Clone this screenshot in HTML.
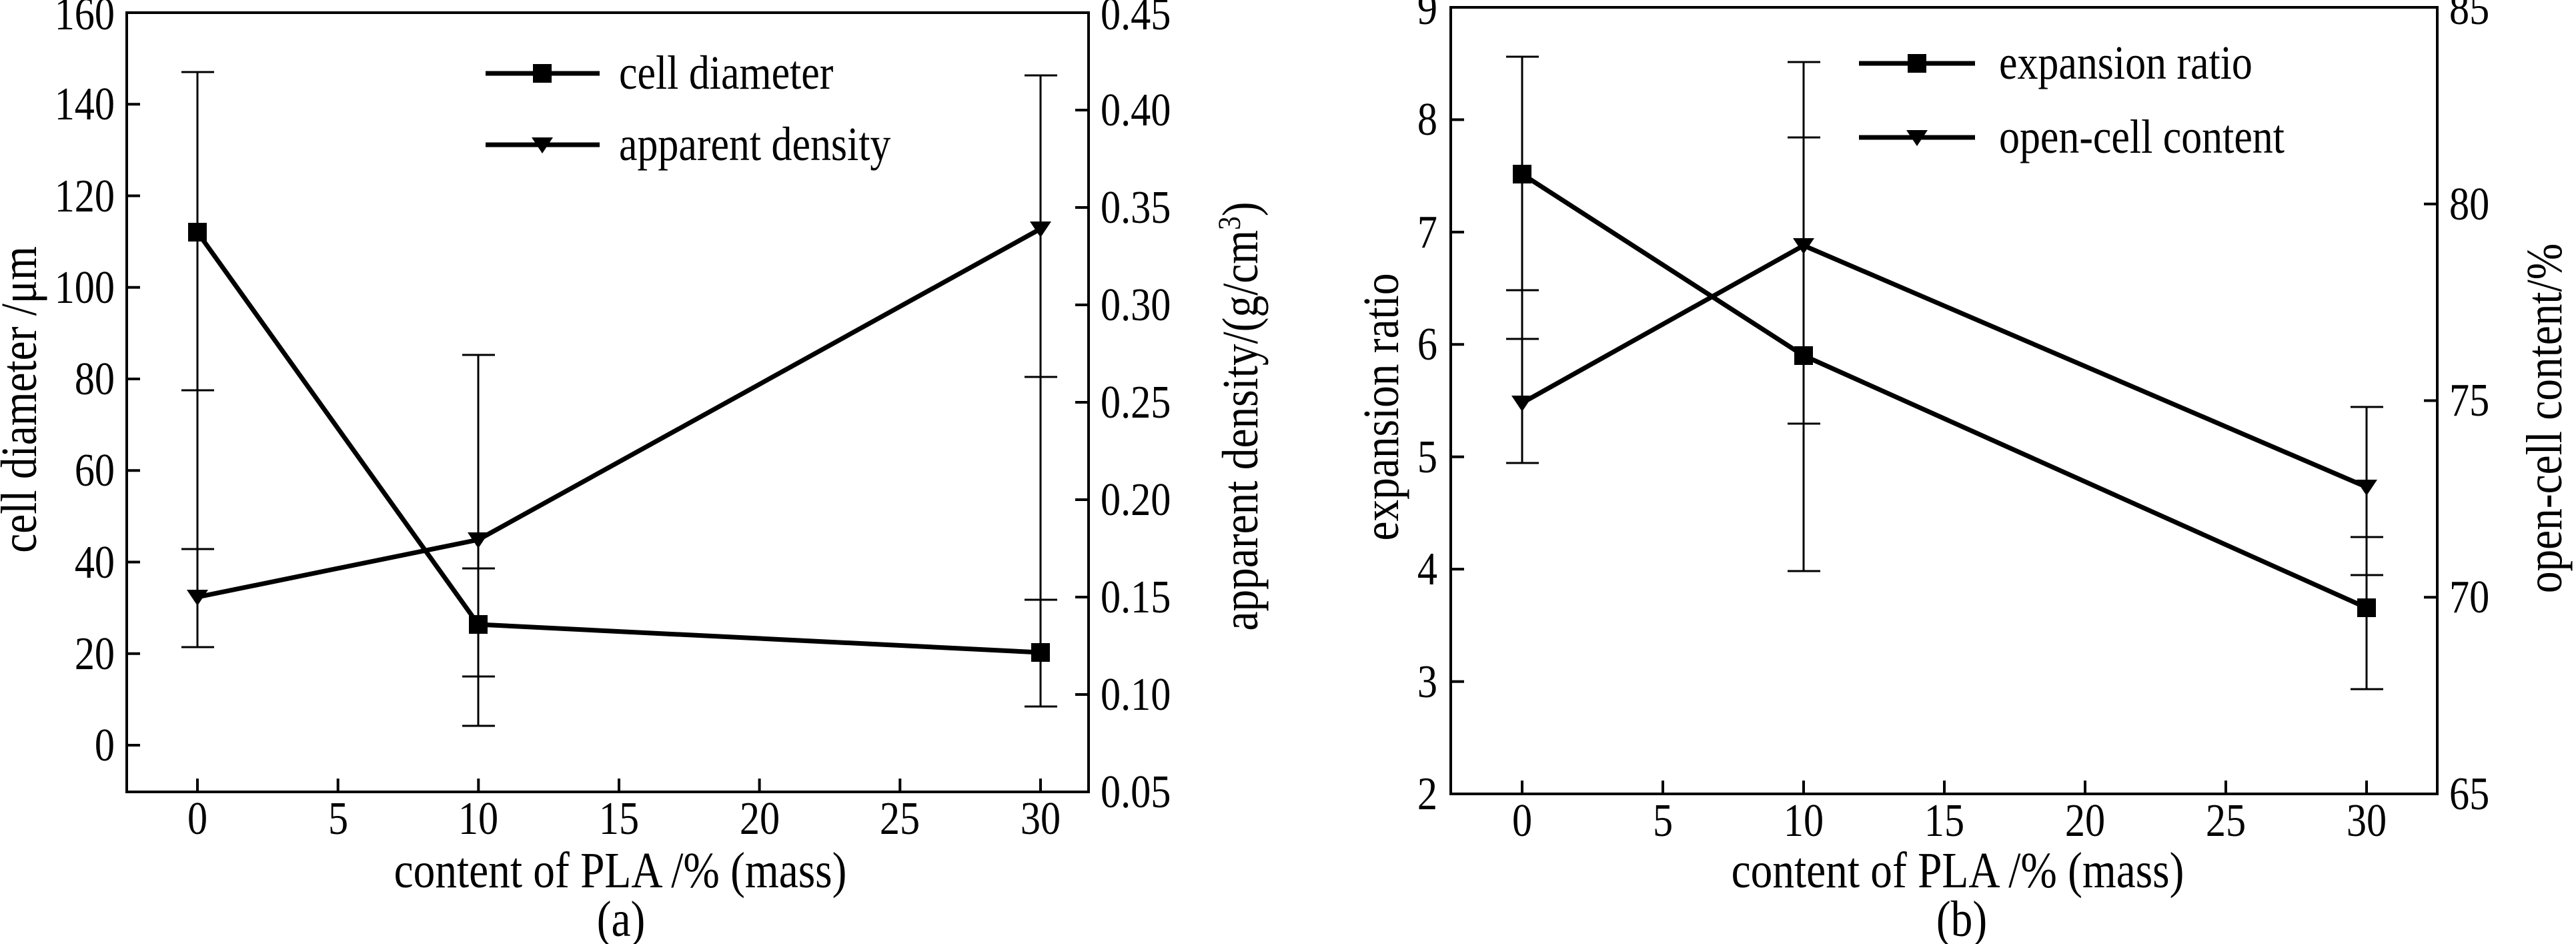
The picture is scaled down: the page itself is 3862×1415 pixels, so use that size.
<!DOCTYPE html>
<html><head><meta charset="utf-8"><style>
html,body{margin:0;padding:0;background:#fff;}
svg{display:block;}
text{font-family:"Liberation Serif",serif;font-size:70px;fill:#000;}
.t{font-size:76px;}
.l{font-size:72px;}
</style></head><body>
<svg width="3862" height="1415" viewBox="0 0 3862 1415" xmlns="http://www.w3.org/2000/svg">
<defs>
<g id="sq"><rect x="-14" y="-14" width="28" height="28" fill="#000"/></g>
<g id="tri"><polygon points="-16,-11 16,-11 0,13" fill="#000"/></g>
</defs>
<g stroke="#000" fill="none">
<rect x="190" y="19" width="1442" height="1168" stroke-width="4"/>
<g stroke-width="4">
<path d="M190 1117h20M190 979.75h20M190 842.5h20M190 705.25h20M190 568h20M190 430.75h20M190 293.5h20M190 156.25h20"/>
<path d="M1632 1041h-20M1632 895h-20M1632 749h-20M1632 603h-20M1632 457h-20M1632 311h-20M1632 165h-20"/>
<path d="M296 1187v-20M506.7 1187v-20M717.3 1187v-20M928 1187v-20M1138.6 1187v-20M1349.3 1187v-20M1560 1187v-20"/>
</g>
<g stroke-width="3">
<path d="M296 108V970M272 108h49M272 585h49M272 823h49M272 970h49"/>
<path d="M717 532V1088M693 532h49M693 852h49M693 1014h49M693 1088h49"/>
<path d="M1560 113V1059M1536 113h49M1536 565h49M1536 899h49M1536 1059h49"/>
</g>
<g stroke-width="7" stroke-linejoin="round">
<polyline points="296,348 717,936 1560,978"/>
<polyline points="296,895 717,809 1560,343"/>
<path d="M728 110H899M728 217H899"/>
</g>
<rect x="2175" y="11" width="1479" height="1179" stroke-width="4"/>
<g stroke-width="4">
<path d="M2175 1021.6h20M2175 853.1h20M2175 684.7h20M2175 516.3h20M2175 347.9h20M2175 179.4h20"/>
<path d="M3654 895.25h-20M3654 600.5h-20M3654 305.75h-20"/>
<path d="M2282 1190v-20M2493 1190v-20M2704 1190v-20M2915 1190v-20M3126 1190v-20M3337 1190v-20M3548 1190v-20"/>
</g>
<g stroke-width="3">
<path d="M2282 85V694M2258 85h49M2258 435h49M2258 508h49M2258 694h49"/>
<path d="M2704 93V856M2680 93h49M2680 206h49M2680 635h49M2680 856h49"/>
<path d="M3548 610V1033M3524 610h49M3524 805h49M3524 862h49M3524 1033h49"/>
</g>
<g stroke-width="7" stroke-linejoin="round">
<polyline points="2282,261 2704,533 3548,911"/>
<polyline points="2282,604 2704,368 3548,730"/>
<path d="M2787 95H2961M2787 206H2961"/>
</g>
</g>
<use href="#sq" x="296" y="348"/><use href="#sq" x="717" y="936"/><use href="#sq" x="1560" y="978"/>
<use href="#tri" x="296" y="895"/><use href="#tri" x="717" y="809"/><use href="#tri" x="1560" y="343"/>
<use href="#sq" x="813" y="110"/><use href="#tri" x="813" y="217"/>
<use href="#sq" x="2282" y="261"/><use href="#sq" x="2704" y="533"/><use href="#sq" x="3548" y="911"/>
<use href="#tri" x="2282" y="604"/><use href="#tri" x="2704" y="368"/><use href="#tri" x="3548" y="730"/>
<use href="#sq" x="2874" y="95"/><use href="#tri" x="2874" y="206"/>

<g text-anchor="end">
<text transform="translate(172,1140) scale(.86,1)">0</text>
<text transform="translate(172,1003) scale(.86,1)">20</text>
<text transform="translate(172,866) scale(.86,1)">40</text>
<text transform="translate(172,728) scale(.86,1)">60</text>
<text transform="translate(172,591) scale(.86,1)">80</text>
<text transform="translate(172,454) scale(.86,1)">100</text>
<text transform="translate(172,317) scale(.86,1)">120</text>
<text transform="translate(172,179) scale(.86,1)">140</text>
<text transform="translate(172,44) scale(.86,1)">160</text>
</g>
<g>
<text transform="translate(1650,1210) scale(.86,1)">0.05</text>
<text transform="translate(1650,1064) scale(.86,1)">0.10</text>
<text transform="translate(1650,918) scale(.86,1)">0.15</text>
<text transform="translate(1650,772) scale(.86,1)">0.20</text>
<text transform="translate(1650,626) scale(.86,1)">0.25</text>
<text transform="translate(1650,480) scale(.86,1)">0.30</text>
<text transform="translate(1650,334) scale(.86,1)">0.35</text>
<text transform="translate(1650,188) scale(.86,1)">0.40</text>
<text transform="translate(1650,44) scale(.86,1)">0.45</text>
</g>
<g text-anchor="middle">
<text transform="translate(296,1250) scale(.86,1)">0</text>
<text transform="translate(507,1250) scale(.86,1)">5</text>
<text transform="translate(717,1250) scale(.86,1)">10</text>
<text transform="translate(928,1250) scale(.86,1)">15</text>
<text transform="translate(1139,1250) scale(.86,1)">20</text>
<text transform="translate(1349,1250) scale(.86,1)">25</text>
<text transform="translate(1560,1250) scale(.86,1)">30</text>
<text class="t" transform="translate(930,1330) scale(.86,1)">content of PLA /% (mass)</text>
<text class="t" transform="translate(931,1403) scale(.86,1)">(a)</text>
<text class="t" transform="translate(54,599) rotate(-90) scale(.86,1)">cell diameter /μm</text>
<text class="t" transform="translate(1885,624) rotate(-90) scale(.86,1)">apparent density/(g/cm<tspan font-size="48" dy="-26">3</tspan><tspan dy="26">)</tspan></text>
</g>
<text class="l" transform="translate(928,133) scale(.86,1)">cell diameter</text>
<text class="l" transform="translate(928,240) scale(.86,1)">apparent density</text>

<g text-anchor="end">
<text transform="translate(2155,1213) scale(.86,1)">2</text>
<text transform="translate(2155,1045) scale(.86,1)">3</text>
<text transform="translate(2155,876) scale(.86,1)">4</text>
<text transform="translate(2155,708) scale(.86,1)">5</text>
<text transform="translate(2155,539) scale(.86,1)">6</text>
<text transform="translate(2155,371) scale(.86,1)">7</text>
<text transform="translate(2155,202) scale(.86,1)">8</text>
<text transform="translate(2155,36) scale(.86,1)">9</text>
</g>
<g>
<text transform="translate(3672,1213) scale(.86,1)">65</text>
<text transform="translate(3672,918) scale(.86,1)">70</text>
<text transform="translate(3672,623) scale(.86,1)">75</text>
<text transform="translate(3672,329) scale(.86,1)">80</text>
<text transform="translate(3672,36) scale(.86,1)">85</text>
</g>
<g text-anchor="middle">
<text transform="translate(2282,1253) scale(.86,1)">0</text>
<text transform="translate(2493,1253) scale(.86,1)">5</text>
<text transform="translate(2704,1253) scale(.86,1)">10</text>
<text transform="translate(2915,1253) scale(.86,1)">15</text>
<text transform="translate(3126,1253) scale(.86,1)">20</text>
<text transform="translate(3337,1253) scale(.86,1)">25</text>
<text transform="translate(3548,1253) scale(.86,1)">30</text>
<text class="t" transform="translate(2935,1330) scale(.86,1)">content of PLA /% (mass)</text>
<text class="t" transform="translate(2941,1403) scale(.86,1)">(b)</text>
<text class="t" transform="translate(2096,610) rotate(-90) scale(.86,1)">expansion ratio</text>
<text class="t" transform="translate(3840,627) rotate(-90) scale(.86,1)">open-cell content/%</text>
</g>
<text class="l" transform="translate(2997,118) scale(.86,1)">expansion ratio</text>
<text class="l" transform="translate(2997,229) scale(.86,1)">open-cell content</text>
</svg>
</body></html>
